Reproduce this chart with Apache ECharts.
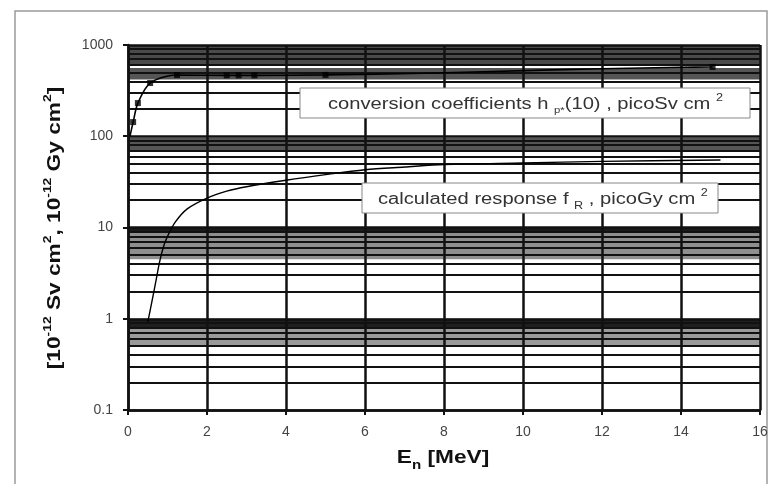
<!DOCTYPE html>
<html>
<head>
<meta charset="utf-8">
<script src="https://cdn.jsdelivr.net/npm/echarts@6/dist/echarts.min.js"></script>
<style>
  html, body { margin: 0; padding: 0; background: #fff; }
  #chart { width: 780px; height: 484px; }
</style>
</head>
<body>
<div id="chart"></div>
<script>
// Conversion coefficients h*(10): tabulated energies (MeV) and values (picoSv cm2)
const hPointEnergy = [0.13, 0.25, 0.56, 1.24, 2.5, 2.8, 3.2, 5.0, 14.8];
const hPointValue  = [143, 231, 383, 469, 465, 465, 465, 470, 575];

// Curve through the coefficients
const hCurveEnergy = [0.05, 0.13, 0.25, 0.56, 1.24, 2.5, 2.8, 3.2, 5.0, 7.5, 10.5, 12, 14, 14.8];
const hCurveValue  = [100, 143, 231, 383, 469, 465, 465, 465, 470, 490, 530, 550, 570, 575];

// Calculated response f_R versus neutron energy (MeV, picoGy cm2)
const fEnergy = [0.5, 0.6, 0.7, 0.8, 0.9, 1.0, 1.2, 1.5, 2, 2.5, 3, 4, 5, 6, 7, 8, 10, 12, 15];
const fValue  = [0.92, 1.5, 2.5, 4.2, 6.2, 8, 11.5, 16, 21, 25, 28, 33, 38, 43, 46, 49, 51, 53, 55];

// Axis ranges and ticks
const xTicks = [0, 2, 4, 6, 8, 10, 12, 14, 16];
const yRange = [0.1, 1000];

// Minor log gridlines: 2..9 times each decade
const decadeStarts = [0.1, 1, 10, 100];
const minorFactors = [2, 3, 4, 5, 6, 7, 8, 9];

// Shaded strips where the minor gridlines crowd together
const bandRanges = [[620, 1000], [420, 560], [67, 96], [8.6, 10], [4.5, 8.6], [0.8, 1], [0.5, 0.8]];
const bandShades = ['#4a4a4a', '#555555', '#555555', '#1a1a1a', '#8f8f8f', '#1f1f1f', '#9a9a9a'];

const minorLines = [];
decadeStarts.forEach(d => minorFactors.forEach(k => minorLines.push(+(d * k).toPrecision(3))));

const pairs = (xs, ys) => xs.map((x, i) => [x, ys[i]]);

const font = '"Liberation Sans", Arial, sans-serif';
const stretch = 1.26;   // text in this figure is drawn wide
const chart = echarts.init(document.getElementById('chart'));

chart.setOption({
  animation: false,
  backgroundColor: '#fff',
  grid: { left: 128, right: 20, top: 45, bottom: 74 },
  xAxis: {
    type: 'value',
    min: xTicks[0],
    max: xTicks[xTicks.length - 1],
    interval: 2,
    z: 3,
    axisLine: { show: true, lineStyle: { color: '#111', width: 2.5 } },
    axisTick: { show: true, length: 5, lineStyle: { color: '#111', width: 2 } },
    axisLabel: { color: '#444', fontSize: 14, fontFamily: font, margin: 15 },
    splitLine: { show: true, lineStyle: { color: '#111', width: 2.5 } }
  },
  yAxis: {
    type: 'log',
    logBase: 10,
    min: yRange[0],
    max: yRange[1],
    z: 3,
    axisLine: { show: true, lineStyle: { color: '#111', width: 2.5 } },
    axisTick: { show: true, length: 5, lineStyle: { color: '#111', width: 2 } },
    axisLabel: { color: '#444', fontSize: 14, fontFamily: font, margin: 15, formatter: v => String(v) },
    splitLine: { show: true, lineStyle: { color: '#111', width: 2.5 } }
  },
  series: [
    {
      // shaded strips behind the grid
      type: 'line',
      data: [],
      z: 1,
      silent: true,
      markArea: {
        silent: true,
        data: bandRanges.map((r, i) => [
          { yAxis: r[0], itemStyle: { color: bandShades[i], opacity: 1 } },
          { yAxis: r[1] }
        ])
      }
    },
    {
      // minor log gridlines
      type: 'line',
      data: [],
      z: 2,
      silent: true,
      markLine: {
        silent: true,
        symbol: ['none', 'none'],
        label: { show: false },
        lineStyle: { color: '#111', width: 2, type: 'solid' },
        data: minorLines.map(v => ({ yAxis: v }))
      }
    },
    {
      name: 'conversion coefficients curve',
      type: 'line',
      z: 6,
      data: pairs(hCurveEnergy, hCurveValue),
      symbol: 'none',
      lineStyle: { color: '#000', width: 1.6 },
      smooth: 0.3
    },
    {
      name: 'conversion coefficients',
      type: 'scatter',
      z: 7,
      data: pairs(hPointEnergy, hPointValue),
      symbol: 'rect',
      symbolSize: 6,
      itemStyle: { color: '#000' }
    },
    {
      name: 'calculated response',
      type: 'line',
      z: 6,
      data: pairs(fEnergy, fValue),
      symbol: 'none',
      lineStyle: { color: '#000', width: 1.4 },
      smooth: 0.3
    }
  ],
  graphic: [
    {
      // outer frame
      type: 'rect',
      silent: true,
      shape: { x: 15, y: 11, width: 752, height: 500 },
      style: { fill: 'none', stroke: '#9a9a9a', lineWidth: 1.5 },
      z: 0
    },
    {
      // y-axis title
      type: 'text',
      x: 53, y: 228,
      rotation: Math.PI / 2,
      scaleX: stretch,
      z: 21,
      style: {
        text: '{b|[10}{p|-12}{b| Sv cm}{p|2}{b|, 10}{p|-12}{b| Gy cm}{p|2}{b|]}',
        align: 'center',
        verticalAlign: 'middle',
        rich: {
          b: { fontSize: 18, fontWeight: 'bold', fill: '#111', fontFamily: font, lineHeight: 22, verticalAlign: 'bottom' },
          p: { fontSize: 11, fontWeight: 'bold', fill: '#111', fontFamily: font, lineHeight: 22, verticalAlign: 'top' }
        }
      }
    },
    {
      // x-axis title
      type: 'text',
      x: 443, y: 456,
      scaleX: stretch,
      z: 21,
      style: {
        text: '{b|E}{s|n}{b| [MeV]}',
        align: 'center',
        verticalAlign: 'middle',
        rich: {
          b: { fontSize: 18, fontWeight: 'bold', fill: '#111', fontFamily: font, lineHeight: 22, verticalAlign: 'bottom' },
          s: { fontSize: 12, fontWeight: 'bold', fill: '#111', fontFamily: font, lineHeight: 22, verticalAlign: 'bottom', padding: [0, 0, -5, 0] }
        }
      }
    },
    {
      type: 'rect',
      shape: { x: 300, y: 88, width: 450, height: 30 },
      style: { fill: '#fff', stroke: '#888', lineWidth: 1 },
      z: 20
    },
    {
      type: 'text',
      x: 328, y: 103,
      scaleX: stretch,
      z: 21,
      style: {
        text: '{t|conversion coefficients h }{s|p*}{t|(10) , picoSv cm }{p|2}',
        verticalAlign: 'middle',
        rich: {
          t: { fontSize: 16, fill: '#333', fontFamily: font, lineHeight: 20, verticalAlign: 'bottom' },
          s: { fontSize: 9, fill: '#333', fontFamily: font, lineHeight: 20, verticalAlign: 'bottom', padding: [0, 0, -2, 0] },
          p: { fontSize: 10, fill: '#333', fontFamily: font, lineHeight: 20, verticalAlign: 'top' }
        }
      }
    },
    {
      type: 'rect',
      shape: { x: 362, y: 183, width: 356, height: 30 },
      style: { fill: '#fff', stroke: '#888', lineWidth: 1 },
      z: 20
    },
    {
      type: 'text',
      x: 378, y: 198,
      scaleX: stretch,
      z: 21,
      style: {
        text: '{t|calculated response f }{s|R}{t| , picoGy cm }{p|2}',
        verticalAlign: 'middle',
        rich: {
          t: { fontSize: 16, fill: '#333', fontFamily: font, lineHeight: 20, verticalAlign: 'bottom' },
          s: { fontSize: 10, fill: '#333', fontFamily: font, lineHeight: 20, verticalAlign: 'bottom', padding: [0, 0, -3, 0] },
          p: { fontSize: 10, fill: '#333', fontFamily: font, lineHeight: 20, verticalAlign: 'top' }
        }
      }
    }
  ]
});
</script>
</body>
</html>
